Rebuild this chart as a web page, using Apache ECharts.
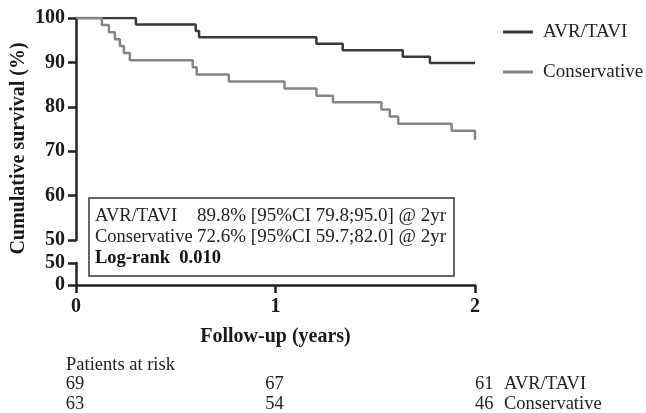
<!DOCTYPE html>
<html>
<head>
<meta charset="utf-8">
<script src="https://cdn.jsdelivr.net/npm/echarts@6/dist/echarts.min.js"></script>
<style>html,body{margin:0;padding:0;background:#fff}#c{width:646px;height:413px}</style>
</head>
<body>
<div id="c"></div>
<script>
// Kaplan-Meier data (time in years, survival %)
const timesAvr = [0, 0.30, 0.60, 0.617, 1.205, 1.337, 1.638, 1.774, 2.0];
const survAvr  = [100, 98.55, 97.1, 95.65, 94.2, 92.75, 91.3, 89.85, 89.8];
const timesCons = [0, 0.13, 0.165, 0.195, 0.22, 0.24, 0.27, 0.585, 0.605, 0.766, 1.045, 1.205, 1.288, 1.531, 1.573, 1.615, 1.883, 2.0];
const survCons  = [100, 98.4, 96.8, 95.2, 93.7, 92.1, 90.5, 88.9, 87.3, 85.7, 84.1, 82.5, 81.0, 79.4, 77.8, 76.2, 74.6, 72.6];
const seriesNames = ['AVR/TAVI', 'Conservative'];
const riskTimes = [0, 1, 2];
const riskAvr = [69, 67, 61];
const riskCons = [63, 54, 46];
const boxLines = [
  ['AVR/TAVI', '89.8% [95%CI 79.8;95.0] @ 2yr'],
  ['Conservative', '72.6% [95%CI 59.7;82.0] @ 2yr']
];
const logRankText = 'Log-rank  0.010';

const FONT = "'Liberation Serif','Times New Roman',serif";
const AX = '#222';
const chart = echarts.init(document.getElementById('c'), null, {renderer: 'canvas'});

const pairs = (t, s) => t.map((x, i) => [x, s[i]]);
const axisCommon = {
  axisLine: {show: true, lineStyle: {color: AX, width: 2.5}},
  axisTick: {show: true, length: 8, lineStyle: {color: AX, width: 2.5}},
  splitLine: {show: false},
  axisLabel: {fontFamily: FONT, fontWeight: 'bold', fontSize: 20, color: '#1a1a1a'}
};

chart.setOption({
  animation: false,
  backgroundColor: '#fff',
  grid: [
    {left: 76, right: 171, top: 18, bottom: 173},
    {left: 76, right: 171, top: 263, bottom: 128}
  ],
  xAxis: [
    {gridIndex: 0, type: 'value', min: 0, max: 2, show: false},
    Object.assign({}, axisCommon, {
      gridIndex: 1, type: 'value', min: 0, max: 2, interval: 1,
      axisLabel: Object.assign({}, axisCommon.axisLabel, {margin: 12}),
      name: 'Follow-up (years)', nameLocation: 'middle', nameGap: 42,
      nameTextStyle: {fontFamily: FONT, fontWeight: 'bold', fontSize: 20, color: '#1a1a1a'}
    })
  ],
  yAxis: [
    Object.assign({}, axisCommon, {
      gridIndex: 0, type: 'value', min: 50, max: 100, interval: 10,
      axisLabel: Object.assign({}, axisCommon.axisLabel, {margin: 11})
    }),
    Object.assign({}, axisCommon, {
      gridIndex: 1, type: 'value', min: 0, max: 50, interval: 50,
      axisLabel: Object.assign({}, axisCommon.axisLabel, {margin: 11})
    })
  ],
  legend: {
    orient: 'vertical', left: 498, top: 17,
    itemWidth: 30, itemHeight: 3, itemGap: 20, icon: 'rect',
    data: seriesNames,
    textStyle: {fontFamily: FONT, fontSize: 19, color: '#222', lineHeight: 20, padding: [0, 0, 0, 5]}
  },
  series: [
    {name: seriesNames[0], type: 'line', xAxisIndex: 0, yAxisIndex: 0, step: 'end',
     showSymbol: false, symbol: 'none', data: pairs(timesAvr, survAvr),
     lineStyle: {color: '#3a3a3a', width: 2.5}, itemStyle: {color: '#3a3a3a'}},
    {name: seriesNames[1], type: 'line', xAxisIndex: 0, yAxisIndex: 0, step: 'end',
     showSymbol: false, symbol: 'none', data: pairs(timesCons, survCons),
     lineStyle: {color: '#858585', width: 2.5}, itemStyle: {color: '#858585'}}
  ]
});

// Graphic elements: y title, stats box, risk table
const gx = t => chart.convertToPixel({xAxisIndex: 1}, t);
const graphics = [];
graphics.push({
  type: 'text', x: 18.5, y: 148.5, rotation: Math.PI / 2,
  style: {text: 'Cumulative survival (%)', font: "bold 20px " + FONT, fill: '#1a1a1a', align: 'center', verticalAlign: 'middle'}
});
graphics.push({
  type: 'rect', shape: {x: 89, y: 198, width: 365, height: 78},
  style: {fill: '#fff', stroke: '#333', lineWidth: 1.5}, z: 10
});
const boxText = boxLines.map(l => '{a|' + l[0] + '}{b|' + l[1] + '}').join('\n') + '\n{c|' + logRankText + '}';
graphics.push({
  type: 'text', x: 95, y: 206, z: 11,
  style: {
    text: boxText, align: 'left', verticalAlign: 'top',
    rich: {
      a: {fontFamily: FONT, fontSize: 18.5, lineHeight: 21, width: 102, fill: '#222'},
      b: {fontFamily: FONT, fontSize: 19, lineHeight: 21, fill: '#222'},
      c: {fontFamily: FONT, fontSize: 18.5, lineHeight: 21, fontWeight: 'bold', fill: '#111'}
    }
  }
});
graphics.push({
  type: 'text', x: 66, y: 365,
  style: {text: 'Patients at risk', font: "18.5px " + FONT, fill: '#222', align: 'left', verticalAlign: 'middle'}
});
const rowY = [384, 404];
[riskAvr, riskCons].forEach((row, r) => {
  row.forEach((v, i) => {
    const px = gx(riskTimes[i]);
    const last = i === riskTimes.length - 1;
    graphics.push({
      type: 'text', x: last ? px : px - 1, y: rowY[r],
      style: {text: String(v), font: "18.5px " + FONT, fill: '#222', align: last ? 'left' : 'center', verticalAlign: 'middle'}
    });
    if (last) {
      graphics.push({
        type: 'text', x: px + 29, y: rowY[r],
        style: {text: seriesNames[r], font: "18.5px " + FONT, fill: '#222', align: 'left', verticalAlign: 'middle'}
      });
    }
  });
});
chart.setOption({graphic: graphics});
</script>
</body>
</html>
